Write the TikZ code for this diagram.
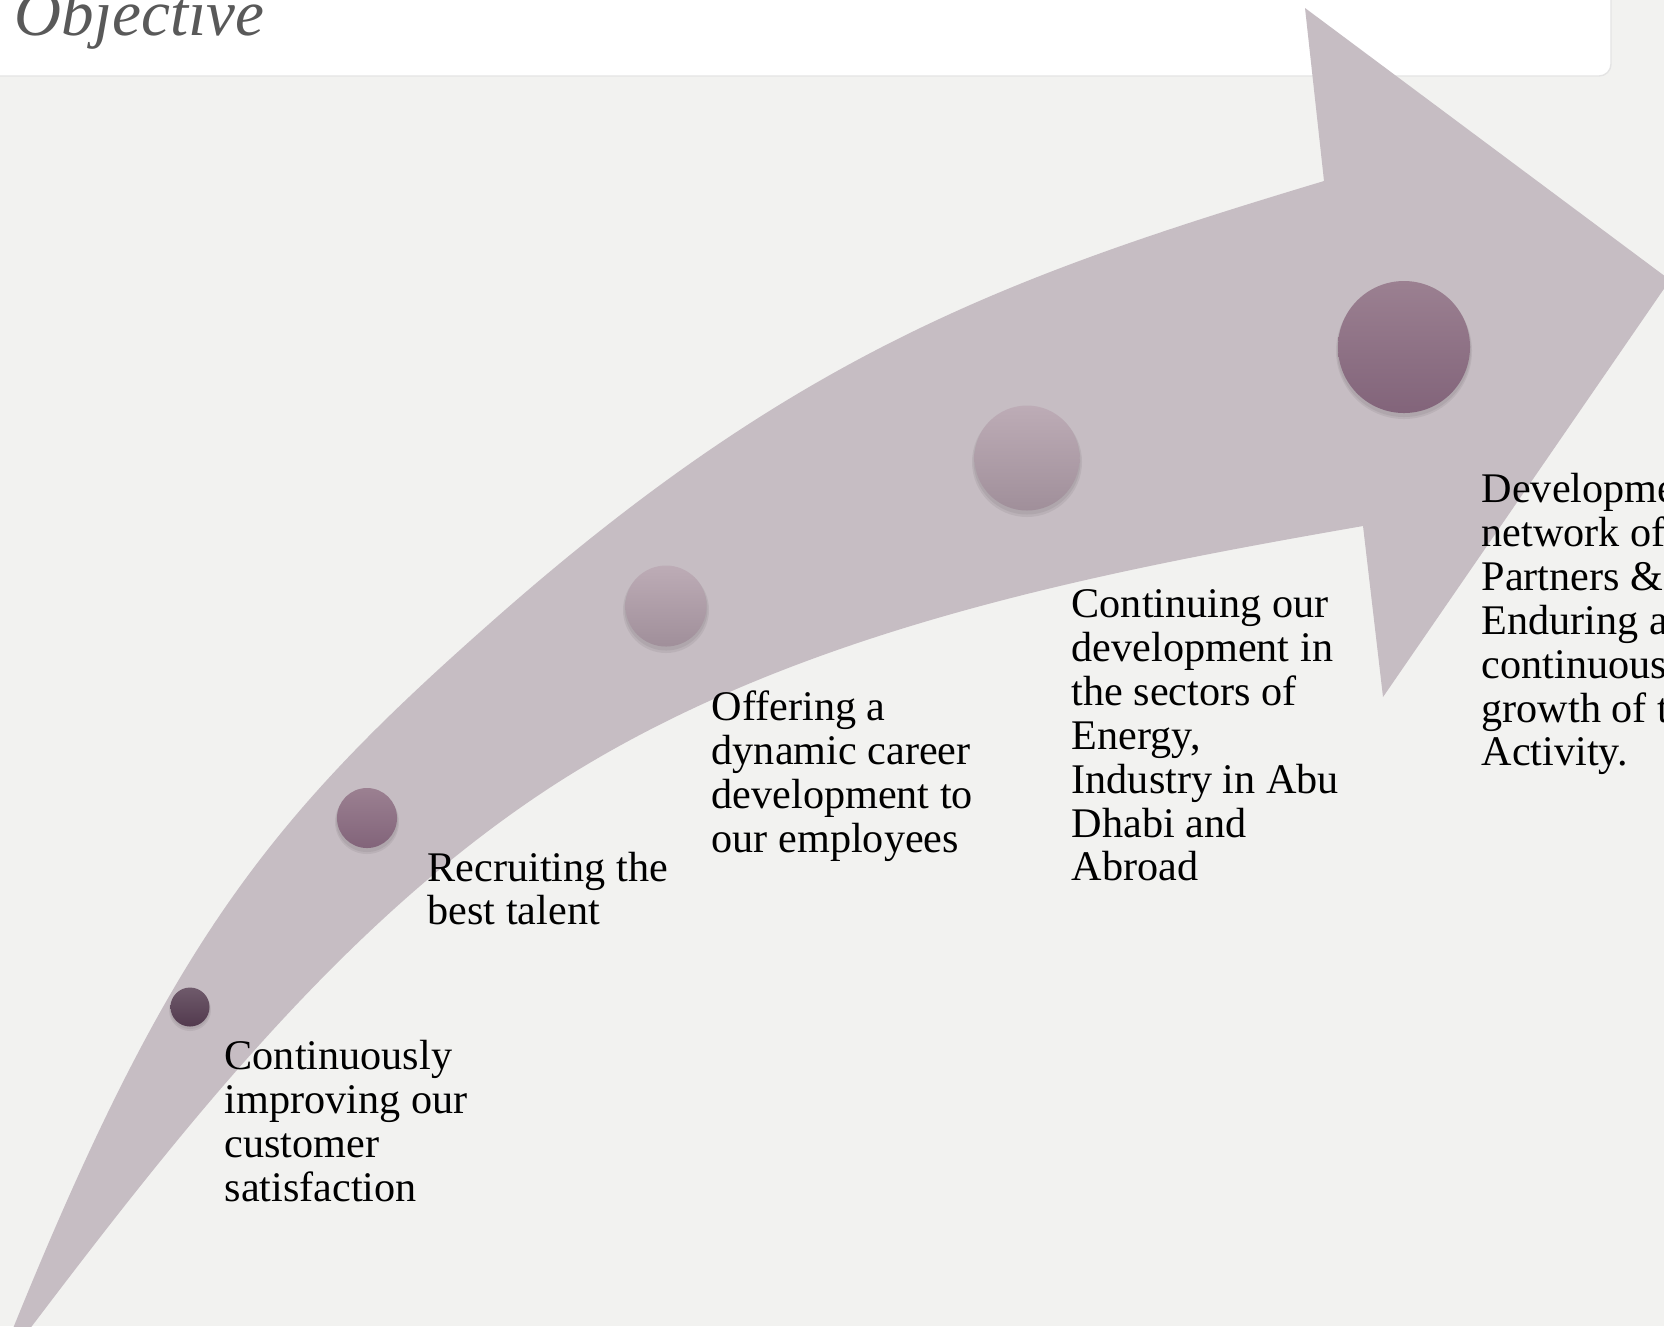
\documentclass[tikz,border=0pt]{standalone}
\usepackage{fontspec}
\setmainfont{Liberation Serif}
\usepackage{tikz}
\definecolor{bgGray}{HTML}{F2F2F0}
\definecolor{barLine}{HTML}{E4E4E4}
\definecolor{titleGray}{HTML}{595959}
\definecolor{arrowFill}{HTML}{C6BDC3}
\definecolor{dotDarkTop}{HTML}{6F5A6B}
\definecolor{dotDarkBot}{HTML}{523A4E}
\definecolor{dotMidTop}{HTML}{9B8091}
\definecolor{dotMidBot}{HTML}{82647A}
\definecolor{dotLightTop}{HTML}{BDACB6}
\definecolor{dotLightBot}{HTML}{A08F9A}
\tikzset{
  lbl/.style={anchor=base west,align=left,inner sep=0pt,font=\fontsize{12}{12.46}\selectfont},
  dotshadow/.style={fill=black,opacity=0.06},
}

\begin{document}
\begin{tikzpicture}[x=0.01cm,y=-0.01cm]

\def\W{1664}
\def\H{1326}
\def\lineH{43.8}

% frame:
\useasboundingbox (0,0) rectangle (\W,\H);
\clip (0,0) rectangle (\W,\H);
\fill[bgGray] (0,0) rectangle (\W,\H);
% title bar:
\draw[draw=barLine,fill=white,rounded corners=3.4pt] (-30,-30) rectangle (1611,76);
\node[anchor=base west,inner sep=0pt,text=titleGray,font=\itshape\fontsize{18.5}{20}\selectfont] (title) at (14,35) {Objective};
% arrow:
\fill[arrowFill] (14,1326) .. controls (172,937) and (272,815) .. (497,617)
  .. controls (797,353) and (1008,276) .. (1324,181) -- (1305,8) -- (1670,280) -- (1383,697) -- (1363,526)
  .. controls (1087,574) and (793,632) .. (557,783) .. controls (347,918) and (183,1127) .. (32,1326)
  -- (-7,1378) -- cycle;
% dots (shadow, then ball):
\fill[dotshadow] (190,1010) circle (21);
\fill[dotshadow] (190,1009) circle (20);
\shade[top color=dotDarkTop,bottom color=dotDarkBot] (190,1007) circle (19.5);
\fill[dotshadow] (367,822) circle (32);
\fill[dotshadow] (367,821) circle (31);
\shade[top color=dotMidTop,bottom color=dotMidBot] (367,818) circle (30);
\fill[dotshadow] (666,610) circle (43);
\fill[dotshadow] (666,609) circle (41.5);
\shade[top color=dotLightTop,bottom color=dotLightBot] (666,606) circle (40.5);
\fill[dotshadow] (1027,462) circle (55);
\fill[dotshadow] (1027,461) circle (53.5);
\shade[top color=dotLightTop,bottom color=dotLightBot] (1027,458) circle (52.5);
\fill[dotshadow] (1404,351) circle (68);
\fill[dotshadow] (1404,350) circle (67);
\shade[top color=dotMidTop,bottom color=dotMidBot] (1404,347) circle (66);
% labels (anchored at last baseline):
\node[lbl] (stepOne) at (224,1070+3*\lineH) {Continuously\\improving our\\customer\\satisfaction};
\node[lbl] (stepTwo) at (427,881+\lineH) {Recruiting the\\best talent};
\node[lbl] (stepThree) at (711,721+3*\lineH) {Offering a\\dynamic career\\development to\\our employees};
\node[lbl] (stepFour) at (1071,618+6*\lineH) {Continuing our\\development in\\the sectors of\\Energy,\\Industry in Abu\\Dhabi and\\Abroad};
\node[lbl] (stepFive) at (1481,503+6*\lineH) {Development\\network of\\Partners \&\\Enduring a\\continuous\\growth of the\\Activity.};

\end{tikzpicture}
\end{document}
